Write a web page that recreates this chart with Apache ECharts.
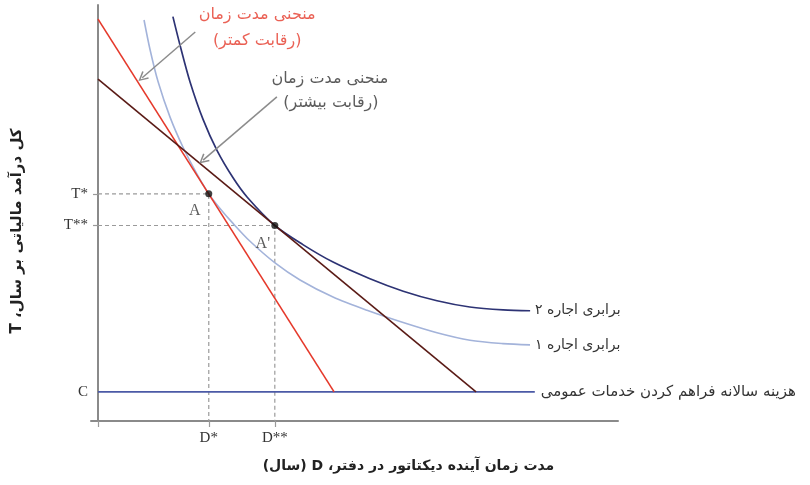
<!DOCTYPE html>
<html>
<head>
<meta charset="utf-8">
<script src="https://cdn.jsdelivr.net/npm/echarts@6/dist/echarts.min.js"></script>
<style>
html, body { margin: 0; background: #fff; }
#chart { width: 810px; height: 485px; }
</style>
</head>
<body>
<div id="chart"></div>
<script>
// wrap persian text in a right-to-left embedding so canvas orders it right
const rtl = s => '\u202B' + s + '\u202C';

// key values (arbitrary units: D across, T up)
const dStar = 21.3, dStar2 = 34;
const tStar = 54.6, tStar2 = 47;
const cost = 7;

// straight lines: less competition (red) and more competition (brown)
const redLine = [[0, 96.6], [45.4, cost]];
const brownLine = [[0, 82.2], [72.7, cost]];
const costLine = [[0, cost], [84, cost]];

// rent equality curves
const curve2D = [14.4, 15.8, 17.7, 20.2, 22.9, 26.0, 28.7, 34.0, 39.4, 45.2, 52.3, 58.7, 65.2, 71.5, 77.9, 83.1];
const curve2T = [97.2, 90.2, 81.5, 72.5, 65.0, 58.4, 53.8, 47.0, 42.4, 38.2, 34.2, 31.2, 28.9, 27.4, 26.7, 26.5];
const curve1D = [8.85, 10.0, 11.54, 13.85, 16.35, 19.04, 21.3, 23.46, 25.96, 29.23, 34.04, 38.85, 45.19, 51.73, 58.08, 65.19, 71.54, 77.88, 83.08];
const curve1T = [96.4, 89.3, 81.6, 73.05, 65.8, 59.35, 54.6, 51.1, 47.5, 43.2, 38.0, 33.9, 29.8, 26.6, 23.9, 21.2, 19.4, 18.6, 18.3];

// tick labels
const xTickValues = [dStar, dStar2];
const xTickLabels = ['D*', 'D**'];
const yTickValues = [cost, tStar2, tStar];
const yTickLabels = ['C', 'T**', 'T*'];

// annotation text anchors [D, T, text, colour]
const notes = [
  [30.6, 97.6, 'منحنی مدت زمان', '#e5392b'],
  [30.6, 91.4, '(رقابت کمتر)', '#e5392b'],
  [44.6, 82.2, 'منحنی مدت زمان', '#333'],
  [44.8, 76.4, '(رقابت بیشتر)', '#333']
];
const arrows = [
  [[18.7, 93.5], [8.5, 82.5]],
  [[34.4, 77.9], [20.2, 62.7]]
];

const fa = 'DejaVu Sans';
const serif = 'Liberation Serif';
const zip = (xs, ys) => xs.map((x, i) => [x, ys[i]]);
const chevron = 'path://M0,10 L5,0 L10,10 L8.6,10.8 L5,3.2 L1.4,10.8 Z';

const plain = (name, data, color, width) => ({
  name, type: 'line', data, showSymbol: false, silent: true,
  lineStyle: { color, width }, z: 3
});

const chart = echarts.init(document.getElementById('chart'));
chart.setOption({
  animation: false,
  backgroundColor: '#fff',
  grid: { left: 91, right: 192, top: 5, bottom: 64, outerBoundsMode: 'none', containLabel: false },
  xAxis: {
    type: 'value', min: -1.35, max: 100,
    splitLine: { show: false },
    axisLine: { lineStyle: { color: '#8a8a8a', width: 2 } },
    axisTick: { show: true, customValues: [0, dStar, dStar2], length: 6, lineStyle: { color: '#999', width: 1.2 } },
    axisLabel: {
      customValues: xTickValues,
      formatter: v => xTickLabels[xTickValues.indexOf(v)] || '',
      fontFamily: serif, fontSize: 15, color: '#333', margin: 10
    },
    name: rtl('مدت زمان آینده دیکتاتور در دفتر، D (سال)'),
    nameLocation: 'middle', nameGap: 38,
    nameTextStyle: { fontFamily: fa, fontWeight: 'bold', fontSize: 14, color: '#222', padding: [0, 0, 0, 108] }
  },
  yAxis: {
    type: 'value', min: 0, max: 100,
    splitLine: { show: false },
    axisLine: { onZero: true, lineStyle: { color: '#8a8a8a', width: 2 } },
    axisTick: { show: true, customValues: [tStar2, tStar], length: 5, lineStyle: { color: '#999', width: 1.2 } },
    axisLabel: {
      customValues: yTickValues,
      formatter: v => yTickLabels[yTickValues.indexOf(v)] || '',
      fontFamily: serif, fontSize: 15, color: '#333', margin: 3
    },
    name: rtl('کل درآمد مالیاتی بر سال، T'),
    nameLocation: 'middle', nameGap: 66,
    nameTextStyle: { fontFamily: fa, fontWeight: 'bold', fontSize: 15, color: '#222', padding: [0, 36, 0, 0] }
  },
  series: [
    {
      name: 'guides', type: 'line', showSymbol: false, silent: true, z: 1,
      data: [[0, tStar], [dStar, tStar], [dStar, 0]],
      lineStyle: { color: '#9a9a9a', width: 1.2, type: [4, 3] }
    },
    {
      name: 'guides2', type: 'line', showSymbol: false, silent: true, z: 1,
      data: [[0, tStar2], [dStar2, tStar2], [dStar2, 0]],
      lineStyle: { color: '#9a9a9a', width: 1.2, type: [4, 3] }
    },
    Object.assign(plain('cost', costLine, '#4b5aa6', 1.6), {
      endLabel: { show: true, formatter: () => rtl('هزینه سالانه فراهم کردن خدمات عمومی'), fontFamily: fa, fontSize: 15, color: '#333', distance: 6 }
    }),
    Object.assign(plain('curve1', zip(curve1D, curve1T), '#a3b3da', 1.6), {
      smooth: 0.3,
      endLabel: { show: true, formatter: () => rtl('برابری اجاره ۱'), fontFamily: fa, fontSize: 14, color: '#333', distance: 5 }
    }),
    Object.assign(plain('curve2', zip(curve2D, curve2T), '#2d3374', 1.7), {
      smooth: 0.3,
      endLabel: { show: true, formatter: () => rtl('برابری اجاره ۲'), fontFamily: fa, fontSize: 14, color: '#333', distance: 5 }
    }),
    plain('red', redLine, '#e5392b', 1.6),
    plain('brown', brownLine, '#5a1b16', 1.6),
    {
      name: 'points', type: 'scatter', symbolSize: 7, z: 5, silent: true,
      itemStyle: { color: '#111' },
      data: [
        { value: [dStar, tStar], label: { show: true, formatter: 'A', offset: [-14, 17] } },
        { value: [dStar2, tStar2], label: { show: true, formatter: "A'", offset: [-12, 18] } }
      ],
      label: { position: 'inside', fontFamily: serif, fontSize: 16, color: '#333' }
    },
    {
      name: 'notes', type: 'scatter', symbolSize: 0, silent: true, z: 6,
      data: notes.map(n => ({
        value: [n[0], n[1]],
        label: { show: true, position: 'inside', formatter: rtl(n[2]), color: n[3], fontFamily: fa, fontSize: 16 }
      })),
      markLine: {
        silent: true, symbol: ['none', chevron], symbolSize: [10, 10],
        label: { show: false },
        lineStyle: { color: '#8c8c8c', width: 1.5, type: 'solid' },
        data: arrows.map(a => [{ coord: a[0] }, { coord: a[1] }])
      }
    }
  ]
});
</script>
</body>
</html>
